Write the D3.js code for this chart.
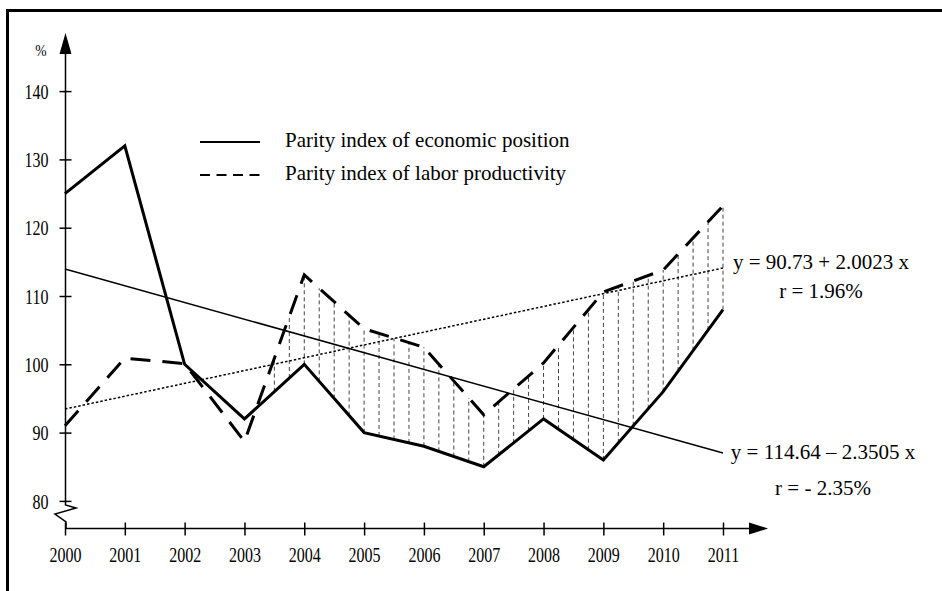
<!DOCTYPE html>
<html lang="en">
	<head>
		<meta charset="utf-8">
		<title>Parity indices</title>
		<script type="text/javascript" src="https://cdn.jsdelivr.net/npm/d3@7"></script>
		<style type="text/css">
			body { margin: 0; background: #fff; }
		</style>
	</head>
	<body>
		<script type="text/javascript">
			//Data
			var years = [2000, 2001, 2002, 2003, 2004, 2005, 2006, 2007, 2008, 2009, 2010, 2011];
			var economic = [125, 132, 100, 92, 100, 90, 88, 85, 92, 86, 96, 108];
			var labor = [91, 100.9, 100.1, 88.7, 113.1, 105.2, 102.5, 92.6, 100.2, 110.6, 113.8, 123.2];
			var yTicks = [80, 90, 100, 110, 120, 130, 140];
			//trend lines, values at 2000 and 2011
			var trendYears = [2000, 2011];
			var trendEconomic = [113.95, 87.0];
			var trendLabor = [93.45, 114.1];
			var legendLabels = ["Parity index of economic position", "Parity index of labor productivity"];
			var eqLabor = ["y = 90.73 + 2.0023 x", "r = 1.96%"];
			var eqEconomic = ["y = 114.64 \u2013 2.3505 x", "r = - 2.35%"];

			//Width and height
			var w = 942;
			var h = 591;
			var squeeze = 0.8;
			var serif = "'Liberation Serif', 'Times New Roman', Times, serif";

			var x = d3.scaleLinear().domain([2000, 2011]).range([65, 723]);
			var y = d3.scaleLinear().domain([80, 140]).range([500.9, 91.1]);

			var svg = d3.select("body")
						.append("svg")
						.attr("width", w)
						.attr("height", h)
						.attr("font-family", serif);

			//Frame (only top and left edges are in view)
			svg.append("rect")
			   .attr("x", 7.5)
			   .attr("y", 10.5)
			   .attr("width", w + 20)
			   .attr("height", h + 20)
			   .style("fill", "none")
			   .style("stroke", "#000")
			   .style("stroke-width", 3);

			//Hatching between the two series, every quarter year
			var econAt = d3.scaleLinear().domain(years).range(economic);
			var laborAt = d3.scaleLinear().domain(years).range(labor);
			var steps = d3.range(2003.5, 2011.01, 0.25);

			svg.selectAll("line.hatch")
			   .data(steps)
			   .enter()
			   .append("line")
			   .attr("class", "hatch")
			   .attr("x1", function(d) { return x(d); })
			   .attr("x2", function(d) { return x(d); })
			   .attr("y1", function(d) { return y(econAt(d)); })
			   .attr("y2", function(d) { return y(laborAt(d)); })
			   .style("stroke", "#444")
			   .style("stroke-width", 1)
			   .style("stroke-dasharray", "4,3");

			//Axes
			var axisY = d3.axisLeft(y).tickValues(yTicks).tickSize(0).tickFormat(d3.format("d"));
			var gy = svg.append("g").attr("transform", "translate(65.5,0)").call(axisY);
			gy.attr("font-family", serif).attr("font-size", null);
			gy.select(".domain").remove();
			gy.selectAll(".tick line").attr("x1", -6).attr("x2", 6).style("stroke-width", 1.5);
			gy.selectAll(".tick text")
			  .attr("x", -17 / squeeze)
			  .attr("dy", "0.36em")
			  .attr("transform", "scale(" + squeeze + ",1)")
			  .style("font-family", serif)
			  .style("font-size", "20px");

			var axisX = d3.axisBottom(x).tickValues(years).tickSize(0).tickFormat(d3.format("d"));
			var gx = svg.append("g").attr("transform", "translate(0,528.5)").call(axisX);
			gx.attr("font-family", serif).attr("font-size", null);
			gx.select(".domain").remove();
			gx.selectAll(".tick line").attr("y1", -6).attr("y2", 7).style("stroke-width", 1.5);
			gx.selectAll(".tick text")
			  .attr("x", 0)
			  .attr("y", 34)
			  .attr("dy", 0)
			  .attr("transform", "scale(" + squeeze + ",1)")
			  .style("font-family", serif)
			  .style("font-size", "20px");

			//Axis lines with the break and arrows
			var axisPath = d3.line();
			svg.append("path")
			   .attr("d", axisPath([[65.5, 50], [65.5, 505], [76, 508], [55, 514], [66, 522], [66, 528.5], [752, 528.5]]))
			   .style("fill", "none")
			   .style("stroke", "#000")
			   .style("stroke-width", 1.5);
			svg.append("path")
			   .attr("d", "M65.5,33 L59.5,54 L71.5,54 Z")
			   .style("fill", "#000");
			svg.append("path")
			   .attr("d", "M768,528.5 L749,522.5 L749,534.5 Z")
			   .style("fill", "#000");

			svg.append("text")
			   .attr("x", 41 / squeeze)
			   .attr("y", 56)
			   .attr("transform", "scale(" + squeeze + ",1)")
			   .attr("text-anchor", "middle")
			   .style("font-family", serif)
			   .style("font-size", "17px")
			   .text("%");

			//Trend lines
			var trendLine = d3.line()
							  .x(function(d, i) { return x(trendYears[i]); })
							  .y(function(d) { return y(d); });

			svg.append("path")
			   .attr("d", trendLine(trendEconomic))
			   .style("fill", "none")
			   .style("stroke", "#000")
			   .style("stroke-width", 1.5);

			svg.append("path")
			   .attr("d", trendLine(trendLabor))
			   .style("fill", "none")
			   .style("stroke", "#000")
			   .style("stroke-width", 1.5)
			   .style("stroke-dasharray", "2.5,2");

			//Series
			var line = d3.line()
						 .x(function(d, i) { return x(years[i]); })
						 .y(function(d) { return y(d); });

			svg.append("path")
			   .attr("d", line(labor))
			   .style("fill", "none")
			   .style("stroke", "#000")
			   .style("stroke-width", 3)
			   .style("stroke-dasharray", "20,12");

			svg.append("path")
			   .attr("d", line(economic))
			   .style("fill", "none")
			   .style("stroke", "#000")
			   .style("stroke-width", 3)
			   .style("stroke-linejoin", "miter");

			//Legend
			var legend = svg.selectAll("g.legend")
							.data(legendLabels)
							.enter()
							.append("g")
							.attr("class", "legend")
							.attr("transform", function(d, i) { return "translate(0," + (142 + i * 33) + ")"; });

			legend.append("line")
				  .attr("x1", 200)
				  .attr("x2", 260)
				  .style("stroke", "#000")
				  .style("stroke-width", 2)
				  .style("stroke-dasharray", function(d, i) { return i ? "10,6.5" : null; });

			legend.append("text")
				  .attr("x", 285)
				  .attr("y", 5)
				  .style("font-family", serif)
				  .style("font-size", "21px")
				  .text(function(d) { return d; });

			//Regression equations
			svg.selectAll("text.eq1")
			   .data(eqLabor)
			   .enter()
			   .append("text")
			   .attr("class", "eq1")
			   .attr("x", 821)
			   .attr("y", function(d, i) { return 269 + i * 29; })
			   .attr("text-anchor", "middle")
			   .style("font-family", serif)
			   .style("font-size", "21px")
			   .text(function(d) { return d; });

			svg.selectAll("text.eq2")
			   .data(eqEconomic)
			   .enter()
			   .append("text")
			   .attr("class", "eq2")
			   .attr("x", 823)
			   .attr("y", function(d, i) { return 459 + i * 36; })
			   .attr("text-anchor", "middle")
			   .style("font-family", serif)
			   .style("font-size", "21px")
			   .text(function(d) { return d; });

		</script>
	</body>
</html>
